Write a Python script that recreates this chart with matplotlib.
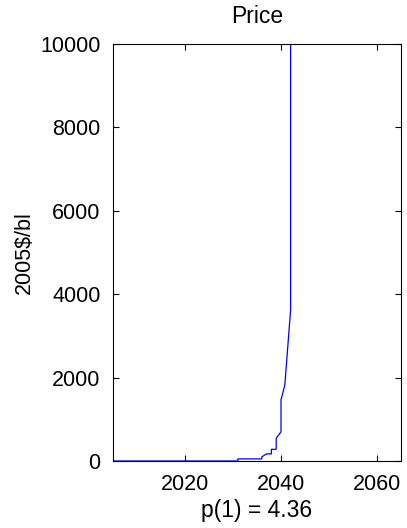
import matplotlib
matplotlib.use("Agg")
from matplotlib import pyplot as plt

# price path (duplicate years = vertical jumps)
years = [2005, 2031, 2031, 2036, 2036, 2037, 2038, 2038, 2039, 2039,
         2040, 2040, 2040.8, 2042, 2042, 2065]
price = [0, 0, 50, 50, 100, 170, 170, 280, 280, 545,
         700, 1465, 1825, 3620, 10000, 10000]
xticks = [2020, 2040, 2060]
yticks = [0, 2000, 4000, 6000, 8000, 10000]

plt.rcParams["font.family"] = ["Liberation Sans", "DejaVu Sans"]
plt.rcParams["font.size"] = 16

fig = plt.figure(figsize=(4.07, 5.28), dpi=100)
ax = fig.add_axes([113 / 407, 1 - 461 / 528, 288 / 407, 417 / 528])
ax.plot(years, price, color="blue", linewidth=0.9)
ax.set_xlim(2005, 2065)
ax.set_ylim(0, 10000)
ax.set_xticks(xticks)
ax.set_yticks(yticks)
ax.tick_params(direction="in", top=True, right=True, length=4, width=0.8,
               pad=9, labelsize=15.5)
for s in ax.spines.values():
    s.set_linewidth(0.8)
ax.set_title("Price", fontsize=16.5, pad=15)
ax.set_xlabel("p(1) = 4.36", fontsize=16.5, labelpad=3)
ax.set_ylabel("2005$/bl", fontsize=15.5, labelpad=4)
fig.savefig("out.png", dpi=100)
